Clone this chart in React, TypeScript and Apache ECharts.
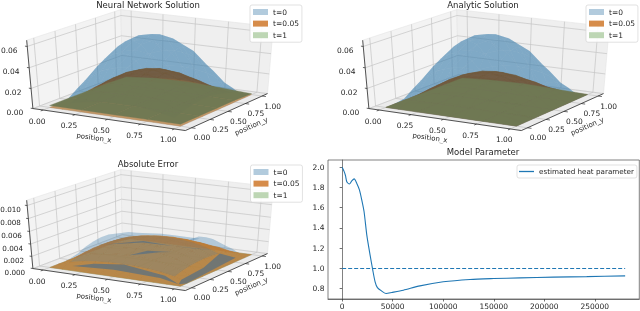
import React, { useEffect, useRef } from "react";
import * as echarts from "echarts";

const FONT = "DejaVu Sans";

// heat surfaces, values in thousandths, rows by position_y, columns by position_x
const heatT0 = [
  [0, 0, 0, 0, 0, 0, 0, 0, 0, 0, 0],
  [0, 8.4, 15, 19.9, 22.5, 23.4, 22.5, 19.9, 15, 8.4, 0],
  [0, 15, 26.6, 35.4, 39.9, 41.6, 39.9, 35.4, 26.6, 15, 0],
  [0, 19.9, 35.4, 47, 53, 55.3, 53, 47, 35.4, 19.9, 0],
  [0, 22.5, 39.9, 53, 59.9, 62.4, 59.9, 53, 39.9, 22.5, 0],
  [0, 23.4, 41.6, 55.3, 62.4, 65, 62.4, 55.3, 41.6, 23.4, 0],
  [0, 22.5, 39.9, 53, 59.9, 62.4, 59.9, 53, 39.9, 22.5, 0],
  [0, 19.9, 35.4, 47, 53, 55.3, 53, 47, 35.4, 19.9, 0],
  [0, 15, 26.6, 35.4, 39.9, 41.6, 39.9, 35.4, 26.6, 15, 0],
  [0, 8.4, 15, 19.9, 22.5, 23.4, 22.5, 19.9, 15, 8.4, 0],
  [0, 0, 0, 0, 0, 0, 0, 0, 0, 0, 0],
];
const networkT005 = [
  [0, 0, 0, 0, 0, 0, 0, 0, 0, 0, 0],
  [0, 3, 5.6, 7.7, 9.1, 9.6, 9.1, 7.7, 5.6, 3, 0],
  [0, 5.6, 10.7, 14.7, 17.3, 18.2, 17.3, 14.7, 10.7, 5.6, 0],
  [0, 7.7, 14.7, 20.3, 23.8, 25.1, 23.8, 20.3, 14.7, 7.7, 0],
  [0, 9.1, 17.3, 23.8, 28, 29.5, 28, 23.8, 17.3, 9.1, 0],
  [0, 9.6, 18.2, 25.1, 29.5, 31, 29.5, 25.1, 18.2, 9.6, 0],
  [0, 9.1, 17.3, 23.8, 28, 29.5, 28, 23.8, 17.3, 9.1, 0],
  [0, 7.7, 14.7, 20.3, 23.8, 25.1, 23.8, 20.3, 14.7, 7.7, 0],
  [0, 5.6, 10.7, 14.7, 17.3, 18.2, 17.3, 14.7, 10.7, 5.6, 0],
  [0, 3, 5.6, 7.7, 9.1, 9.6, 9.1, 7.7, 5.6, 3, 0],
  [0, 0, 0, 0, 0, 0, 0, 0, 0, 0, 0],
];
const analyticT005 = [
  [0, 0, 0, 0, 0, 0, 0, 0, 0, 0, 0],
  [0, 2.7, 5.1, 7, 8.2, 8.7, 8.2, 7, 5.1, 2.7, 0],
  [0, 5.1, 9.7, 13.3, 15.7, 16.5, 15.7, 13.3, 9.7, 5.1, 0],
  [0, 7, 13.3, 18.3, 21.5, 22.7, 21.5, 18.3, 13.3, 7, 0],
  [0, 8.2, 15.7, 21.5, 25.3, 26.6, 25.3, 21.5, 15.7, 8.2, 0],
  [0, 8.7, 16.5, 22.7, 26.6, 28, 26.6, 22.7, 16.5, 8.7, 0],
  [0, 8.2, 15.7, 21.5, 25.3, 26.6, 25.3, 21.5, 15.7, 8.2, 0],
  [0, 7, 13.3, 18.3, 21.5, 22.7, 21.5, 18.3, 13.3, 7, 0],
  [0, 5.1, 9.7, 13.3, 15.7, 16.5, 15.7, 13.3, 9.7, 5.1, 0],
  [0, 2.7, 5.1, 7, 8.2, 8.7, 8.2, 7, 5.1, 2.7, 0],
  [0, 0, 0, 0, 0, 0, 0, 0, 0, 0, 0],
];
const networkT1 = [
  [2, 2, 2, 2, 2],
  [2, 2.2, 2.4, 2.2, 2],
  [2, 2.4, 2.8, 2.4, 2],
  [2, 2.4, 2.8, 2.4, 2],
  [1.2, 4, 4.5, 3, 1],
];
const analyticT1 = [
  [0.2, 0.2, 0.2, 0.2, 0.2],
  [0.2, 0.4, 0.5, 0.4, 0.2],
  [0.2, 0.5, 0.6, 0.5, 0.2],
  [0.2, 0.4, 0.5, 0.4, 0.2],
  [0.2, 2, 2.5, 1.5, 0.2],
];
const errorT0 = [
  [0, 0, 0, 0, 0, 0, 0, 0, 0, 0, 0],
  [0, 0.8, 1.2, 1.2, 1, 0.9, 1, 1.2, 1.5, 1.2, 0],
  [0, 1.6, 2.2, 2, 1.6, 1.4, 1.6, 2.2, 2.8, 2.2, 0],
  [0, 2.2, 2.8, 2.4, 1.6, 1.2, 1.6, 2.6, 3.6, 3, 0],
  [0, 2.6, 3.2, 2.4, 1.4, 1, 1.6, 2.8, 4.2, 3.6, 0],
  [0, 2.8, 3.4, 2.4, 1.4, 1, 1.6, 3, 4.5, 3.8, 0],
  [0, 2.8, 3.3, 2.4, 1.6, 1.4, 2, 3, 4.4, 3.6, 0],
  [0, 2.4, 3, 2.6, 2.2, 2, 2.4, 3, 3.8, 3, 0],
  [0, 1.8, 2.4, 2.6, 2.8, 2.8, 2.8, 2.8, 3, 2.2, 0],
  [0, 1, 1.4, 1.6, 1.8, 1.8, 1.8, 1.6, 1.6, 1.2, 0],
  [0, 0, 0, 0, 0, 0, 0, 0, 0, 0, 0],
];
const errorT005 = [
  [0, 0, 0, 0, 0, 0, 0, 0, 0, 0, 0],
  [0, 0.69, 1.1, 1.35, 1.48, 1.53, 1.48, 1.35, 1.1, 0.69, 0],
  [0, 1.1, 1.76, 2.15, 2.37, 2.45, 2.37, 2.15, 1.76, 1.1, 0],
  [0, 1.35, 2.15, 2.63, 2.9, 2.99, 2.9, 2.63, 2.15, 1.35, 0],
  [0, 1.48, 2.37, 2.9, 3.2, 3.3, 3.2, 2.9, 2.37, 1.48, 0],
  [0, 1.53, 2.45, 2.99, 3.3, 3.4, 3.3, 2.99, 2.45, 1.53, 0],
  [0, 1.48, 2.37, 2.9, 3.2, 3.3, 3.2, 2.9, 2.37, 1.48, 0],
  [0, 1.35, 2.15, 2.63, 2.9, 2.99, 2.9, 2.63, 2.15, 1.35, 0],
  [0, 1.1, 1.76, 2.15, 2.37, 2.45, 2.37, 2.15, 1.76, 1.1, 0],
  [0, 0.69, 1.1, 1.35, 1.48, 1.53, 1.48, 1.35, 1.1, 0.69, 0],
  [0, 0, 0, 0, 0, 0, 0, 0, 0, 0, 0],
];
const errorT1 = [
  [0, 0, 0],
  [0, 0, 0],
  [0, 0, 0],
];
// places where the t=0 error shows through the t=0.05 sheet, as (position_x, position_y)
const errorCreases = [
  [[0.5, 0.2], [0.58, 0.3], [0.72, 0.38], [0.66, 0.32], [0.58, 0.25]],
  [[0.15, 0.05], [0.3, 0.08], [0.52, 0.1], [0.84, 0.08], [0.97, 0.03], [0.82, 0.05], [0.47, 0.05]],
  [[0.9, 0.72], [0.97, 0.82], [1, 0.08], [0.97, 0.03], [0.95, 0.1], [0.95, 0.4]],
  [[0.07, 0.6], [0.45, 0.47], [0.67, 0.48], [0.86, 0.75], [0.78, 0.58], [0.47, 0.43]],
];

const positionTicks = [0, 0.25, 0.5, 0.75, 1];
const solutionZTicks = [0, 0.02, 0.04, 0.06];
const errorZTicks = [0, 0.002, 0.004, 0.006, 0.008, 0.01];

const iterations = [0, 2000, 3300, 4600, 7200, 9500, 11900, 14500, 17100, 19400, 21700, 24400, 27700, 30300, 32600, 34900, 39200, 43500, 49100, 60600, 77000, 100000, 126500, 150000, 176000, 209000, 242000, 280000];
const estimated = [2.0, 1.957, 1.918, 1.858, 1.835, 1.865, 1.885, 1.84, 1.776, 1.677, 1.56, 1.33, 1.13, 0.983, 0.868, 0.81, 0.776, 0.752, 0.762, 0.785, 0.828, 0.868, 0.891, 0.9, 0.907, 0.914, 0.919, 0.927];
const trueIterations = [0, 280000];
const trueValue = [1, 1];
const paramXTicks = [0, 50000, 100000, 150000, 200000, 250000];
const paramYTicks = [0.8, 1, 1.2, 1.4, 1.6, 1.8, 2];

const legendNames = ["t=0", "t=0.05", "t=1"];
const legendSwatches = ["#b2cbdd", "#d68c4a", "#bdd6b4"];

// view of a unit box, azimuth -60, elevation 30
const rt = [0.866, 0.5, 0];
const up = [-0.25, 0.433, 0.866];
const eye = [0.433, -0.75, 0.5];
const dist = 10;
const SX = 176;
const SY = 78;
const M = 0.07;

function toBox(v: number) {
  return M + (1 - 2 * M) * v;
}
function project(p: { cx: number; cy: number }, bx: number, by: number, bz: number) {
  const a = bx - 0.5, b = by - 0.5, c = bz - 0.5;
  const X = a * rt[0] + b * rt[1];
  const Y = a * up[0] + b * up[1] + c * up[2];
  const D = a * eye[0] + b * eye[1] + c * eye[2];
  const f = dist / (dist - D);
  return [p.cx + SX * X * f, p.cy - SY * Y * f];
}
function gridAt(g: number[][], x: number, y: number) {
  const n = g.length - 1;
  const fx = Math.min(x * n, n - 1e-6), fy = Math.min(y * n, n - 1e-6);
  const i = Math.floor(fx), j = Math.floor(fy);
  const u = fx - i, v = fy - j;
  return (g[j][i] * (1 - u) + g[j][i + 1] * u) * (1 - v) + (g[j + 1][i] * (1 - u) + g[j + 1][i + 1] * u) * v;
}

type Panel = { cx: number; cy: number; zTop: number; zTicks: number[]; digits: number };
const panels: Record<string, Panel> = {
  network: { cx: 152, cy: 68, zTop: 0.0657, zTicks: solutionZTicks, digits: 2 },
  analytic: { cx: 488, cy: 68, zTop: 0.0657, zTicks: solutionZTicks, digits: 2 },
  error: { cx: 152, cy: 228, zTop: 0.0108, zTicks: errorZTicks, digits: 3 },
};

function sceneSeries(p: Panel) {
  return {
    type: "custom",
    coordinateSystem: "cartesian2d",
    xAxisIndex: 0,
    yAxisIndex: 0,
    silent: true,
    z: 2,
    data: [[0, 0]],
    renderItem: (_: any, api: any) => {
      const P = (x: number, y: number, z: number) => api.coord(project(p, x, y, z));
      const wall = (pts: number[][], fill: string) => ({
        type: "polygon",
        shape: { points: pts.map((q) => P(q[0], q[1], q[2])) },
        style: { fill, stroke: "#e4e4e4", lineWidth: 0.6 },
      });
      const seg = (a: number[], b: number[], stroke: string, lineWidth: number) => {
        const s = P(a[0], a[1], a[2]), e = P(b[0], b[1], b[2]);
        return { type: "line", shape: { x1: s[0], y1: s[1], x2: e[0], y2: e[1] }, style: { stroke, lineWidth } };
      };
      const text = (t: string, at: number[], fontSize: number, rotation = 0) => ({
        type: "text",
        x: at[0],
        y: at[1],
        rotation,
        style: { text: t, fontFamily: FONT, fontSize, fill: "#262626", align: "center", verticalAlign: "middle" },
      });
      const kids: any[] = [
        wall([[0, 0, 0], [1, 0, 0], [1, 1, 0], [0, 1, 0]], "#ebebeb"),
        wall([[0, 0, 0], [0, 1, 0], [0, 1, 1], [0, 0, 1]], "#f3f3f3"),
        wall([[0, 1, 0], [1, 1, 0], [1, 1, 1], [0, 1, 1]], "#efefef"),
      ];
      const G = "#c4c4c4";
      positionTicks.forEach((t) => {
        const b = toBox(t);
        kids.push(seg([b, 0, 0], [b, 1, 0], G, 0.7), seg([b, 1, 0], [b, 1, 1], G, 0.7));
        kids.push(seg([0, b, 0], [1, b, 0], G, 0.7), seg([0, b, 0], [0, b, 1], G, 0.7));
      });
      p.zTicks.forEach((t) => {
        const b = t / p.zTop;
        kids.push(seg([0, 0, b], [0, 1, b], G, 0.7), seg([0, 1, b], [1, 1, b], G, 0.7));
      });
      const A = "#2b2b2b";
      kids.push(seg([0, 0, 0], [1, 0, 0], A, 0.8), seg([1, 0, 0], [1, 1, 0], A, 0.8), seg([0, 0, 0], [0, 0, 1], A, 0.8));
      positionTicks.forEach((t) => {
        const b = toBox(t);
        kids.push(seg([b, 0, 0], [b, -0.025, 0], A, 0.7), seg([1, b, 0], [1.025, b, 0], A, 0.7));
        const xp = P(b, 0, 0), yp = P(1, b, 0);
        kids.push(text(t.toFixed(2), [xp[0] - 6, xp[1] + 11], 7.5));
        kids.push(text(t.toFixed(2), [yp[0] + 10.5, yp[1] + 10], 7.5));
      });
      p.zTicks.forEach((t) => {
        const b = t / p.zTop;
        const zp = P(0, 0, b);
        kids.push(seg([0, 0, b], [-0.015, 0, b], A, 0.7));
        const wide = p.digits === 3;
        kids.push(text(t.toFixed(p.digits), [Math.max(zp[0] - 18, wide ? 10.6 : 0), zp[1] + 4], wide ? 7.2 : 7.5));
      });
      const o = P(0, 0, 0);
      kids.push(text("position_x", [o[0] + 61, o[1] + 29.5], 7, -0.14));
      kids.push(text("position_y", [o[0] + 218.5, o[1] + 18], 7, 0.42));
      return { type: "group", children: kids };
    },
  };
}

function surfaceSeries(
  p: Panel,
  name: string,
  grid: number[][],
  fill: string,
  opacity: number,
  z: number,
  ringFill?: string,
  backRows = 1
) {
  const n = grid.length - 1;
  const cells: number[][] = [];
  for (let j = n - 1; j >= 0; j--) for (let i = 0; i < n; i++) cells.push([i, j]);
  return {
    type: "custom",
    name,
    coordinateSystem: "cartesian2d",
    xAxisIndex: 0,
    yAxisIndex: 0,
    silent: true,
    z,
    data: cells,
    encode: { x: 0, y: 1 },
    renderItem: (params: any, api: any) => {
      const [i, j] = cells[params.dataIndex];
      const corner = (a: number, b: number) =>
        api.coord(project(p, toBox(a / n), toBox(b / n), (grid[b][a] * 0.001) / p.zTop));
      const ring = ringFill && (i === 0 || j === 0 || i === n - 1 || j >= n - backRows);
      const color = ring ? ringFill : fill;
      return {
        type: "polygon",
        shape: { points: [corner(i, j), corner(i + 1, j), corner(i + 1, j + 1), corner(i, j + 1)] },
        style: opacity > 0.5 ? { fill: color, opacity, stroke: color, lineWidth: 0.35 } : { fill: color, opacity },
      };
    },
  };
}

function creaseSeries(p: Panel, z: number) {
  return {
    type: "custom",
    name: "t=0 showing through",
    coordinateSystem: "cartesian2d",
    xAxisIndex: 0,
    yAxisIndex: 0,
    silent: true,
    z,
    data: errorCreases.map((_, k) => [k, 0]),
    encode: { x: 0, y: 1 },
    renderItem: (params: any, api: any) => ({
      type: "polygon",
      shape: {
        points: errorCreases[params.dataIndex].map(([x, y]) =>
          api.coord(project(p, toBox(x), toBox(y), (gridAt(errorT005, x, y) * 0.001) / p.zTop))
        ),
      },
      style: { fill: "#566f84", opacity: 0.72 },
    }),
  };
}

function legend3d(left: number, top: number) {
  return {
    left,
    top,
    orient: "vertical",
    selectedMode: false,
    z: 20,
    data: legendNames.map((name, k) => ({ name, itemStyle: { color: legendSwatches[k], opacity: 1 } })),
    icon: "rect",
    itemWidth: 15,
    itemHeight: 6,
    itemGap: 2.6,
    padding: [2.5, 3, 2.5, 3],
    backgroundColor: "rgba(255,255,255,0.9)",
    borderColor: "#d4d4d4",
    borderWidth: 0.7,
    borderRadius: 2,
    textStyle: { fontFamily: FONT, fontSize: 7.5, color: "#262626", lineHeight: 9 },
  };
}

function title(text: string, left: number, top: number) {
  return {
    text,
    left,
    top,
    textAlign: "center",
    padding: 0,
    textStyle: { fontFamily: FONT, fontSize: 8.5, fontWeight: "normal", color: "#262626" },
  };
}

export default function App() {
  const ref = useRef<HTMLDivElement>(null);
  useEffect(() => {
    const chart = echarts.init(ref.current!, undefined, { renderer: "svg" });
    const { network, analytic, error } = panels;
    const blue = "#4082af";
    const olive = "#6e7853";
    const brown = "#71583a";
    const bright = "#cb873f";
    chart.setOption({
      animation: false,
      backgroundColor: "#ffffff",
      title: [
        title("Neural Network Solution", 148, 0.5),
        title("Analytic Solution", 483, 0.5),
        title("Absolute Error", 148, 159.5),
        title("Model Parameter", 483, 147.5),
      ],
      legend: [
        legend3d(250, 5),
        legend3d(586, 5),
        legend3d(250.5, 165),
        {
          left: 517,
          top: 165,
          selectedMode: false,
          z: 20,
          data: [{ name: "estimated heat parameter", icon: "rect", itemStyle: { color: "#1f77b4" } }],
          itemWidth: 15,
          itemHeight: 1.3,
          padding: [2, 3, 2, 2],
          backgroundColor: "rgba(255,255,255,0.9)",
          borderColor: "#d4d4d4",
          borderWidth: 0.7,
          borderRadius: 2,
          textStyle: { fontFamily: FONT, fontSize: 7.2, color: "#262626", lineHeight: 9 },
        },
      ],
      grid: [
        { left: 0, top: 0, width: 640, height: 311, show: false },
        { left: 328, top: 160, width: 311.3, height: 139, show: true, borderColor: "#4a4a4a", borderWidth: 0.7, backgroundColor: "#ffffff" },
      ],
      xAxis: [
        { type: "value", gridIndex: 0, min: 0, max: 640, show: false },
        {
          type: "value",
          gridIndex: 1,
          min: -14000,
          max: 294000,
          splitLine: { show: false },
          axisLine: { lineStyle: { color: "#4a4a4a", width: 0.7 } },
          axisTick: { length: 2.5, lineStyle: { color: "#333333", width: 0.7 }, customValues: paramXTicks },
          axisLabel: { fontFamily: FONT, fontSize: 7.5, color: "#262626", margin: 3.5, customValues: paramXTicks, formatter: (v: number) => String(v) },
        },
      ],
      yAxis: [
        { type: "value", gridIndex: 0, min: 0, max: 311, inverse: true, show: false },
        {
          type: "value",
          gridIndex: 1,
          min: 0.698,
          max: 2.072,
          splitLine: { show: false },
          axisLine: { show: true, lineStyle: { color: "#4a4a4a", width: 0.7 } },
          axisTick: { show: true, length: 2.5, lineStyle: { color: "#333333", width: 0.7 }, customValues: paramYTicks },
          axisLabel: { fontFamily: FONT, fontSize: 7.5, color: "#262626", margin: 3.5, customValues: paramYTicks, formatter: (v: number) => v.toFixed(1) },
        },
      ],
      series: [
        sceneSeries(network),
        surfaceSeries(network, "t=0", heatT0, blue, 0.4, 3),
        surfaceSeries(network, "t=0.05", networkT005, brown, 0.72, 4, bright),
        surfaceSeries(network, "t=1", networkT1, olive, 0.97, 5),
        sceneSeries(analytic),
        surfaceSeries(analytic, "t=0", heatT0, blue, 0.4, 3),
        surfaceSeries(analytic, "t=0.05", analyticT005, brown, 0.72, 4),
        surfaceSeries(analytic, "t=1", analyticT1, olive, 0.97, 5),
        sceneSeries(error),
        surfaceSeries(error, "t=0", errorT0, blue, 0.19, 3),
        surfaceSeries(error, "t=1", errorT1, "#8fbf8a", 0.6, 3.5),
        surfaceSeries(error, "t=0.05", errorT005, "#9c7a52", 0.85, 4, "#bb7c38", 3),
        creaseSeries(error, 5),
        {
          type: "line",
          name: "estimated heat parameter",
          xAxisIndex: 1,
          yAxisIndex: 1,
          z: 6,
          symbol: "none",
          silent: true,
          smooth: 0.25,
          data: iterations.map((x, i) => [x, estimated[i]]),
          lineStyle: { color: "#1f77b4", width: 1.1 },
          itemStyle: { color: "#1f77b4" },
        },
        {
          type: "line",
          name: "true heat parameter",
          xAxisIndex: 1,
          yAxisIndex: 1,
          z: 6,
          symbol: "none",
          silent: true,
          data: trueIterations.map((x, i) => [x, trueValue[i]]),
          lineStyle: { color: "#1f77b4", width: 1.1, type: [4, 2] },
          itemStyle: { color: "#1f77b4" },
        },
      ],
    });
    return () => chart.dispose();
  }, []);
  return (
    <div
      ref={ref}
      style={{ position: "fixed", left: 0, top: 0, width: 640, height: 311, filter: "blur(0.4px)" }}
    />
  );
}
